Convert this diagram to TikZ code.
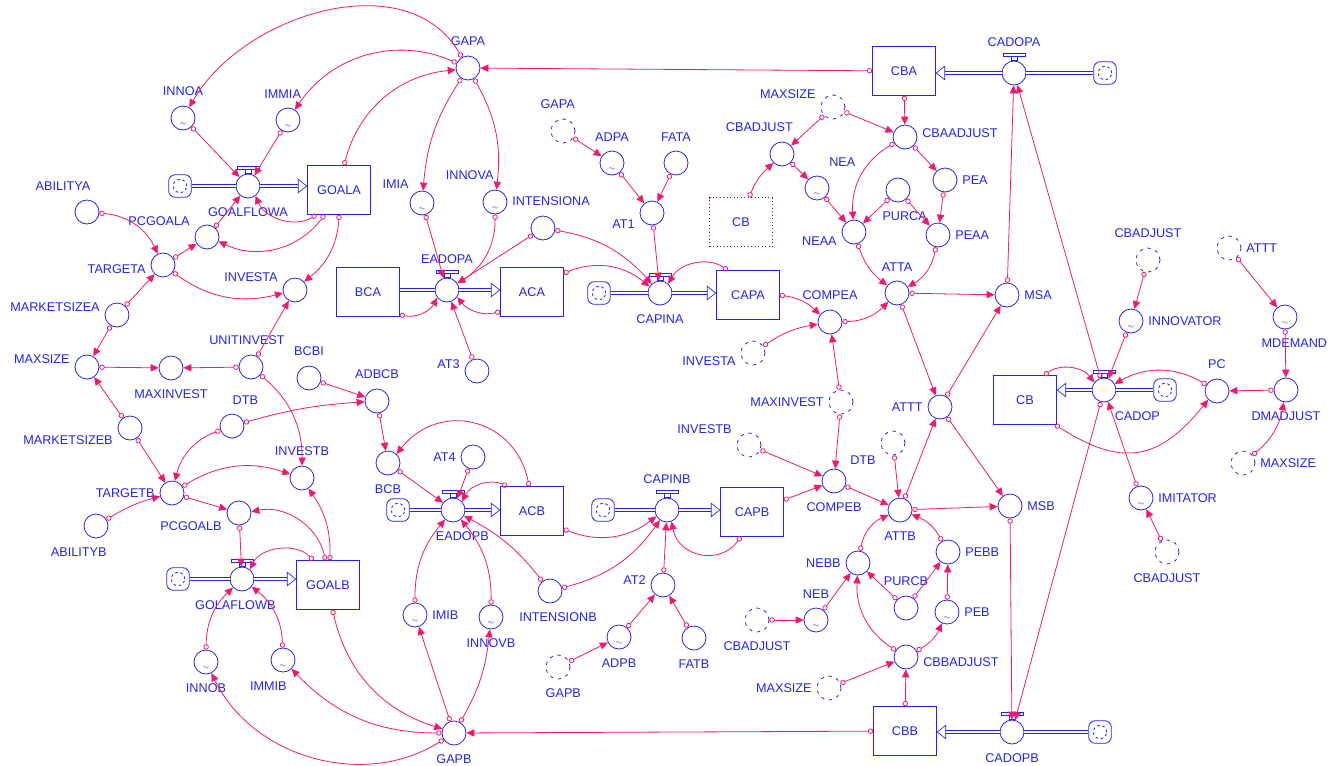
\documentclass[tikz,border=0pt]{standalone}
\usepackage{fontspec}
\setmainfont{Liberation Sans}
\usepackage{tikz}
\usetikzlibrary{arrows.meta}

\definecolor{vblue}{RGB}{35,35,235}
\definecolor{lnk}{RGB}{240,25,110}

\tikzset{
  lab/.style={font=\fontsize{9.5}{11}\selectfont, text=vblue, inner xsep=1pt, inner ysep=4.5pt},
  aux/.style={circle, draw=vblue, line width=0.6pt, minimum size=18pt, inner sep=0pt},
  lookup/.style={aux, label={[text=vblue, font=\tiny, inner sep=0pt, yshift=-5pt]center:$\sim$}},
  ghost/.style={aux, dash pattern=on 2.5pt off 3.5pt},
  valve/.style={aux},
  stock/.style={draw=vblue, line width=0.6pt, minimum width=47pt, minimum height=36.5pt, inner sep=0pt, font=\fontsize{9.5}{11}\selectfont, text=vblue},
  ghostbox/.style={stock, dotted},
  cloudbox/.style={draw=vblue, line width=0.6pt, rounded corners=5pt, minimum size=17pt, inner sep=0pt,
    path picture={\draw[vblue, dash pattern=on 2pt off 2pt] (path picture bounding box.center) circle (5pt);}},
  pipe/.style={draw=vblue, line width=0.5pt, double=white, double distance=2pt},
  inflow/.style={pipe, -{Triangle[open, length=7pt, width=11pt]}},
  link/.style={draw=lnk, line width=0.6pt, {Circle[open, length=4pt, width=4pt]}-{Triangle[length=6pt, width=5.5pt]}}
}

\begin{document}
\begin{tikzpicture}[x=0.75pt, y=0.75pt, label distance=2.5pt]
  \useasboundingbox (0,0) rectangle (1340,-765);

  % goal sector A
  \node[lookup, label={[lab]above:INNOA}] (INNOA) at (183,-118) {};
  \node[lookup, label={[lab,xshift=-4pt]above:IMMIA}] (IMMIA) at (288,-120) {};
  \node[cloudbox] (cGA) at (180,-186) {};
  \node[valve, label={[lab]below:GOALFLOWA}] (GOALFLOWA) at (248,-186) {};
  \node[stock] (GOALA) at (339,-190) {GOALA};
  \node[aux, label={[lab,xshift=-18pt]above:ABILITYA}] (ABILITYA) at (87,-212) {};
  \node[aux, label={[lab,yshift=12pt]left:PCGOALA}] (PCGOALA) at (207,-237) {};
  \node[aux, label={[lab,yshift=-3pt]left:TARGETA}] (TARGETA) at (163,-265) {};
  \node[aux, label={[lab,yshift=10pt]left:INVESTA}] (INVESTA) at (295,-290) {};
  \node[aux, label={[lab,yshift=6pt]left:MARKETSIZEA}] (MARKETSIZEA) at (117,-315) {};
  \node[aux, label={[lab,yshift=6pt]left:MAXSIZE}] (MAXSIZE) at (87,-367) {};
  \node[aux, label={[lab]below:MAXINVEST}] (MAXINVEST) at (171,-368) {};
  \node[aux, label={[lab,xshift=-3pt]above:UNITINVEST}] (UNITINVEST) at (251,-367) {};
  \node[aux, label={[lab]above:BCBI}] (BCBI) at (309,-378) {};
  \node[aux, label={[lab,xshift=10pt]above:DTB}] (DTB) at (232,-426) {};
  \node[aux, label={[lab,yshift=-9pt]left:MARKETSIZEB}] (MARKETSIZEB) at (130,-428) {};
  \node[aux, label={[lab]above:INVESTB}] (INVESTB) at (302,-478) {};
  \node[aux, label={[lab]left:TARGETB}] (TARGETB) at (172,-493) {};
  \node[aux, label={[lab,xshift=-13pt]below:ABILITYB}] (ABILITYB) at (96,-526) {};
  \node[aux, label={[lab,yshift=-10pt]left:PCGOALB}] (PCGOALB) at (239,-513) {};
  \node[cloudbox] (cGB) at (178,-579) {};
  \node[valve, label={[lab,xshift=-5pt]below:GOLAFLOWB}] (GOLAFLOWB) at (242,-579) {};
  \node[stock] (GOALB) at (328,-585) {GOALB};
  \node[lookup, label={[lab]below:INNOB}] (INNOB) at (206,-662) {};
  \node[lookup, label={[lab,xshift=-11pt]below:IMMIB}] (IMMIB) at (283,-660) {};

  % adoption chains
  \node[aux, label={[lab]above:GAPA}] (GAPA) at (468,-68) {};
  \node[lookup, label={[lab,xshift=3pt,yshift=14pt]left:IMIA}] (IMIA) at (422,-203) {};
  \node[lookup, label={[lab,xshift=-19pt]above:INNOVA}] (INNOVA) at (495,-202) {};
  \node[aux, label={[lab,xshift=6pt]above:INTENSIONA}] (INTENSIONA) at (543,-228) {};
  \node[stock] (BCA) at (368,-292) {BCA};
  \node[valve, label={[lab,yshift=3pt]above:EADOPA}] (EADOPA) at (447,-290) {};
  \node[stock] (ACA) at (532,-292) {ACA};
  \node[aux, label={[lab,yshift=5pt]left:AT3}] (AT3) at (477,-371) {};
  \node[aux, label={[lab]above:ADBCB}] (ADBCB) at (377,-401) {};
  \node[aux, label={[lab]below:BCB}] (BCB) at (388,-463) {};
  \node[aux, label={[lab]left:AT4}] (AT4) at (473,-457) {};
  \node[cloudbox] (cEB) at (398,-510) {};
  \node[valve, label={[lab,xshift=7pt]below:EADOPB}] (EADOPB) at (453,-510) {};
  \node[stock] (ACB) at (532,-511) {ACB};
  \node[lookup, label={[lab]right:IMIB}] (IMIB) at (415,-615) {};
  \node[lookup, label={[lab]below:INNOVB}] (INNOVB) at (491,-617) {};
  \node[aux, label={[lab,xshift=6pt]below:INTENSIONB}] (INTENSIONB) at (550,-591) {};
  \node[aux, label={[lab]below:GAPB}] (GAPB) at (454,-733) {};

  \node[ghost, label={[lab,xshift=-4pt]above:GAPA}] (sGAPA) at (563,-131) {};
  \node[lookup, label={[lab]above:ADPA}] (ADPA) at (612,-163) {};
  \node[aux, label={[lab]above:FATA}] (FATA) at (676,-163) {};
  \node[aux, label={[lab,yshift=-8pt]left:AT1}] (AT1) at (652,-213) {};
  \node[cloudbox] (cCA) at (599,-293) {};
  \node[valve, label={[lab]below:CAPINA}] (CAPINA) at (660,-293) {};
  \node[stock] (CAPA) at (748,-295) {CAPA};
  \node[ghostbox] (sCB) at (741,-222) {CB};
  \node[cloudbox] (cCB2) at (603,-510) {};
  \node[valve, label={[lab,yshift=3pt]above:CAPINB}] (CAPINB) at (667,-510) {};
  \node[stock] (CAPB) at (752,-512) {CAPB};
  \node[aux, label={[lab,yshift=4pt]left:AT2}] (AT2) at (663,-585) {};
  \node[lookup, label={[lab]below:ADPB}] (ADPB) at (619,-637) {};
  \node[ghost, label={[lab,xshift=4pt]below:GAPB}] (sGAPB) at (558,-667) {};
  \node[aux, label={[lab]below:FATB}] (FATB) at (694,-638) {};

  % competition / market share
  \node[stock] (CBA) at (904,-71) {CBA};
  \node[valve, label={[lab,yshift=3pt]above:CADOPA}] (CADOPA) at (1014,-73) {};
  \node[cloudbox] (cCBA) at (1105,-73) {};
  \node[ghost, label={[lab,yshift=10pt]left:MAXSIZE}] (sMAXSIZEa) at (833,-107) {};
  \node[aux, label={[lab,xshift=-17pt]above:CBADJUST}] (CBADJUST) at (782,-154) {};
  \node[aux, label={[lab,yshift=3pt]right:CBAADJUST}] (CBAADJUST) at (905,-137) {};
  \node[lookup, label={[lab,xshift=19pt]above:NEA}] (NEA) at (817,-188) {};
  \node[aux, label={[lab]right:PEA}] (PEA) at (945,-180) {};
  \node[aux, label={[lab,xshift=5pt]below:PURCA}] (PURCA) at (898,-190) {};
  \node[aux, label={[lab,yshift=-7pt]left:NEAA}] (NEAA) at (854,-232) {};
  \node[aux, label={[lab]right:PEAA}] (PEAA) at (938,-235) {};
  \node[aux, label={[lab]above:ATTA}] (ATTA) at (897,-293) {};
  \node[aux, label={[lab]above:COMPEA}] (COMPEA) at (830,-322) {};
  \node[ghost, label={[lab,yshift=-6pt]left:INVESTA}] (sINVESTA) at (753,-353) {};
  \node[aux, label={[lab]right:MSA}] (MSA) at (1007,-295) {};
  \node[ghost, label={[lab]left:MAXINVEST}] (sMAXINVEST) at (841,-402) {};
  \node[aux, label={[lab]left:ATTT}] (ATTT) at (940,-407) {};
  \node[ghost, label={[lab,yshift=12pt]left:INVESTB}] (sINVESTB) at (749,-445) {};
  \node[ghost, label={[lab,yshift=-13pt]left:DTB}] (sDTB) at (893,-443) {};
  \node[aux, label={[lab]below:COMPEB}] (COMPEB) at (834,-481) {};
  \node[aux, label={[lab]below:ATTB}] (ATTB) at (900,-510) {};
  \node[aux, label={[lab]right:MSB}] (MSB) at (1010,-506) {};
  \node[aux, label={[lab]left:NEBB}] (NEBB) at (858,-563) {};
  \node[aux, label={[lab]right:PEBB}] (PEBB) at (948,-552) {};
  \node[aux, label={[lab]above:PURCB}] (PURCB) at (906,-608) {};
  \node[lookup, label={[lab]above:NEB}] (NEB) at (816,-620) {};
  \node[lookup, label={[lab]right:PEB}] (PEB) at (947,-612) {};
  \node[ghost, label={[lab]below:CBADJUST}] (sCBADJUSTb) at (757,-620) {};
  \node[aux, label={[lab,yshift=-4pt]right:CBBADJUST}] (CBBADJUST) at (906,-657) {};
  \node[ghost, label={[lab]left:MAXSIZE}] (sMAXSIZEb) at (829,-688) {};
  \node[stock] (CBB) at (905,-731) {CBB};
  \node[valve, label={[lab]below:CADOPB}] (CADOPB) at (1012,-732) {};
  \node[cloudbox] (cCBB) at (1100,-732) {};

  % customer base
  \node[stock] (CB) at (1025,-400) {CB};
  \node[valve, label={[lab,xshift=25pt]below:CADOP}] (CADOP) at (1104,-390) {};
  \node[cloudbox] (cCB) at (1165,-390) {};
  \node[aux, label={[lab]above:PC}] (PC) at (1217,-391) {};
  \node[aux, label={[lab]below:DMADJUST}] (DMADJUST) at (1286,-390) {};
  \node[lookup, label={[lab,xshift=7pt]below:MDEMAND}] (MDEMAND) at (1285,-317) {};
  \node[ghost, label={[lab]right:ATTT}] (sATTT) at (1229,-248) {};
  \node[ghost, label={[lab]above:CBADJUST}] (sCBADJUSTt) at (1148,-260) {};
  \node[lookup, label={[lab]right:INNOVATOR}] (INNOVATOR) at (1131,-321) {};
  \node[lookup, label={[lab]right:IMITATOR}] (IMITATOR) at (1141,-498) {};
  \node[ghost, label={[lab]below:CBADJUST}] (sCBADJUSTr) at (1167,-552) {};
  \node[ghost, label={[lab]right:MAXSIZE}] (sMAXSIZEr) at (1243,-463) {};

  % pipes
  \draw[pipe] (cGA) -- (GOALFLOWA);
  \draw[inflow] (GOALFLOWA) -- (GOALFLOWA -| GOALA.west);
  \draw[pipe] (cGB) -- (GOLAFLOWB);
  \draw[inflow] (GOLAFLOWB) -- (GOLAFLOWB -| GOALB.west);
  \draw[pipe] (EADOPA -| BCA.east) -- (EADOPA);
  \draw[inflow] (EADOPA) -- (EADOPA -| ACA.west);
  \draw[pipe] (cCA) -- (CAPINA);
  \draw[inflow] (CAPINA) -- (CAPINA -| CAPA.west);
  \draw[pipe] (cEB) -- (EADOPB);
  \draw[inflow] (EADOPB) -- (EADOPB -| ACB.west);
  \draw[pipe] (cCB2) -- (CAPINB);
  \draw[inflow] (CAPINB) -- (CAPINB -| CAPB.west);
  \draw[pipe] (cCBA) -- (CADOPA);
  \draw[inflow] (CADOPA) -- (CADOPA -| CBA.east);
  \draw[pipe] (cCBB) -- (CADOPB);
  \draw[inflow] (CADOPB) -- (CADOPB -| CBB.east);
  \draw[pipe] (cCB) -- (CADOP);
  \draw[inflow] (CADOP) -- (CADOP -| CB.east);
  \foreach \v in {GOALFLOWA,GOLAFLOWB,EADOPA,EADOPB,CAPINA,CAPINB,CADOPA,CADOPB,CADOP}
    \draw[vblue, line width=0.5pt, fill=white] (\v.north) ++(-3,0) rectangle ++(6,4) ++(-14,0) rectangle ++(22,3);

  % links, goal sector
  \draw[link] (GAPA) to[out=120, in=60, looseness=1] (INNOA);
  \draw[link] (GAPA) to[bend right=40] (IMMIA);
  \draw[link] (GOALA) to[bend left=35] (GAPA);
  \draw[link] (GOALA) to[bend left=50] (GOALFLOWA);
  \draw[link] (GOALA) to[bend left=40] (PCGOALA);
  \draw[link] (GOALA) to[bend left=24] (INVESTA);
  \draw[link] (INNOA) -- (GOALFLOWA);
  \draw[link] (IMMIA) -- (GOALFLOWA);
  \draw[link] (PCGOALA) -- (GOALFLOWA);
  \draw[link] (ABILITYA) to[bend left=30] (TARGETA);
  \draw[link] (TARGETA) -- (PCGOALA);
  \draw[link] (TARGETA) to[bend right=25] (INVESTA);
  \draw[link] (MARKETSIZEA) -- (TARGETA);
  \draw[link] (MARKETSIZEA) -- (MAXSIZE);
  \draw[link] (MAXSIZE) -- (MAXINVEST);
  \draw[link] (UNITINVEST) -- (MAXINVEST);
  \draw[link] (UNITINVEST) -- (INVESTA);
  \draw[link] (UNITINVEST) to[bend left=25] (INVESTB);
  \draw[link] (MARKETSIZEB) -- (MAXSIZE);
  \draw[link] (MARKETSIZEB) -- (TARGETB);
  \draw[link] (DTB) to[bend right=28] (TARGETB);
  \draw[link] (DTB) to[bend left=6] (ADBCB);
  \draw[link] (BCBI) -- (ADBCB);
  \draw[link] (ADBCB) -- (BCB);
  \draw[link] (TARGETB) to[bend left=25] (INVESTB);
  \draw[link] (TARGETB) -- (PCGOALB);
  \draw[link] (ABILITYB) to[bend left=8] (TARGETB);
  \draw[link] (GOALB) to[bend right=45] (PCGOALB);
  \draw[link] (PCGOALB) -- (GOLAFLOWB);
  \draw[link] (GOALB) to[bend right=55] (GOLAFLOWB);
  \draw[link] (GOALB) to[bend right=18] (INVESTB);
  \draw[link] (INNOB) to[bend left=23] (GOLAFLOWB);
  \draw[link] (IMMIB) to[bend right=25] (GOLAFLOWB);
  \draw[link] (GAPB) to[bend left=48] (INNOB);
  \draw[link] (GAPB) to[bend left=23] (IMMIB);
  \draw[link] (GOALB) to[bend right=30] (GAPB);

  % links, adoption chains
  \draw[link] (CBA) -- (GAPA);
  \draw[link] (GAPA) to[bend right=14] (IMIA);
  \draw[link] (GAPA) to[bend left=18] (INNOVA);
  \draw[link] (IMIA) -- (EADOPA);
  \draw[link] (INNOVA) to[bend left=29] (EADOPA);
  \draw[link] (INTENSIONA) -- (EADOPA);
  \draw[link] (INTENSIONA) to[bend left=19] (CAPINA);
  \draw[link] (BCA) to[bend right=37] (EADOPA);
  \draw[link] (ACA) to[bend left=33] (EADOPA);
  \draw[link] (AT3) -- (EADOPA);
  \draw[link] (ACA) to[bend left=31] (CAPINA);
  \draw[link] (AT1) -- (CAPINA);
  \draw[link] (ADPA) -- (AT1);
  \draw[link] (FATA) -- (AT1);
  \draw[link] (sGAPA) -- (ADPA);
  \draw[link] (CAPA) to[bend right=49] (CAPINA);
  \draw[link] (CBB) -- (GAPB);
  \draw[link] (GAPB) -- (IMIB);
  \draw[link] (GAPB) to[bend right=12] (INNOVB);
  \draw[link] (IMIB) to[bend left=20] (EADOPB);
  \draw[link] (INNOVB) to[bend right=20] (EADOPB);
  \draw[link] (INTENSIONB) to[bend right=12] (EADOPB);
  \draw[link] (INTENSIONB) to[bend right=20] (CAPINB);
  \draw[link] (BCB) -- (EADOPB);
  \draw[link] (AT4) -- (EADOPB);
  \draw[link] (ACB) to[bend right=44] (EADOPB);
  \draw[link] (ACB) to[bend right=65, looseness=1.3] (BCB);
  \draw[link] (ACB) to[bend right=30] (CAPINB);
  \draw[link] (AT2) -- (CAPINB);
  \draw[link] (ADPB) -- (AT2);
  \draw[link] (sGAPB) -- (ADPB);
  \draw[link] (FATB) -- (AT2);
  \draw[link] (CAPB) to[bend left=67, looseness=1.3] (CAPINB);

  % links, competition
  \draw[link] (CBA) -- (CBAADJUST);
  \draw[link] (sMAXSIZEa) -- (CBAADJUST);
  \draw[link] (sMAXSIZEa) -- (CBADJUST);
  \draw[link] (sCB) to[bend left=13] (CBADJUST);
  \draw[link] (CBADJUST) -- (NEA);
  \draw[link] (NEA) -- (NEAA);
  \draw[link] (CBAADJUST) to[bend right=32] (NEAA);
  \draw[link] (CBAADJUST) -- (PEA);
  \draw[link] (PURCA) -- (NEAA);
  \draw[link] (PURCA) -- (PEAA);
  \draw[link] (PEA) -- (PEAA);
  \draw[link] (NEAA) to[bend right=17] (ATTA);
  \draw[link] (PEAA) to[bend left=25] (ATTA);
  \draw[link] (sINVESTA) to[bend left=12] (COMPEA);
  \draw[link] (CAPA) to[bend left=18] (COMPEA);
  \draw[link] (COMPEA) to[bend right=22] (ATTA);
  \draw[link] (sMAXINVEST) -- (COMPEA);
  \draw[link] (sMAXINVEST) -- (COMPEB);
  \draw[link] (sINVESTB) -- (COMPEB);
  \draw[link] (CAPB) -- (COMPEB);
  \draw[link] (COMPEB) -- (ATTB);
  \draw[link] (sDTB) -- (ATTB);
  \draw[link] (CBB) -- (CBBADJUST);
  \draw[link] (sMAXSIZEb) -- (CBBADJUST);
  \draw[link] (CBBADJUST) to[bend left=30] (NEBB);
  \draw[link] (CBBADJUST) to[bend right=18] (PEB);
  \draw[link] (sCBADJUSTb) -- (NEB);
  \draw[link] (NEB) -- (NEBB);
  \draw[link] (PURCB) -- (NEBB);
  \draw[link] (PURCB) -- (PEBB);
  \draw[link] (PEB) -- (PEBB);
  \draw[link] (NEBB) to[bend left=28] (ATTB);
  \draw[link] (PEBB) to[bend right=20] (ATTB);
  \draw[link] (ATTA) -- (MSA);
  \draw[link] (ATTA) -- (ATTT);
  \draw[link] (ATTB) -- (ATTT);
  \draw[link] (ATTT) -- (MSA);
  \draw[link] (ATTT) -- (MSB);
  \draw[link] (ATTB) -- (MSB);
  \draw[link] (MSA) -- (CADOPA);
  \draw[link] (MSB) -- (CADOPB);

  % links, customer base
  \draw[link] (CADOP) -- (CADOPA);
  \draw[link] (CADOP) -- (CADOPB);
  \draw[link] (INNOVATOR) -- (CADOP);
  \draw[link] (IMITATOR) -- (CADOP);
  \draw[link] (sCBADJUSTt) -- (INNOVATOR);
  \draw[link] (sCBADJUSTr) -- (IMITATOR);
  \draw[link] (CB) to[bend left=45] (CADOP);
  \draw[link] (PC) to[bend right=30] (CADOP);
  \draw[link] (CB) to[bend right=42, looseness=1.3] (PC);
  \draw[link] (DMADJUST) -- (PC);
  \draw[link] (MDEMAND) -- (DMADJUST);
  \draw[link] (sATTT) -- (MDEMAND);
  \draw[link] (sMAXSIZEr) to[bend right=20] (DMADJUST);
\end{tikzpicture}
\end{document}
